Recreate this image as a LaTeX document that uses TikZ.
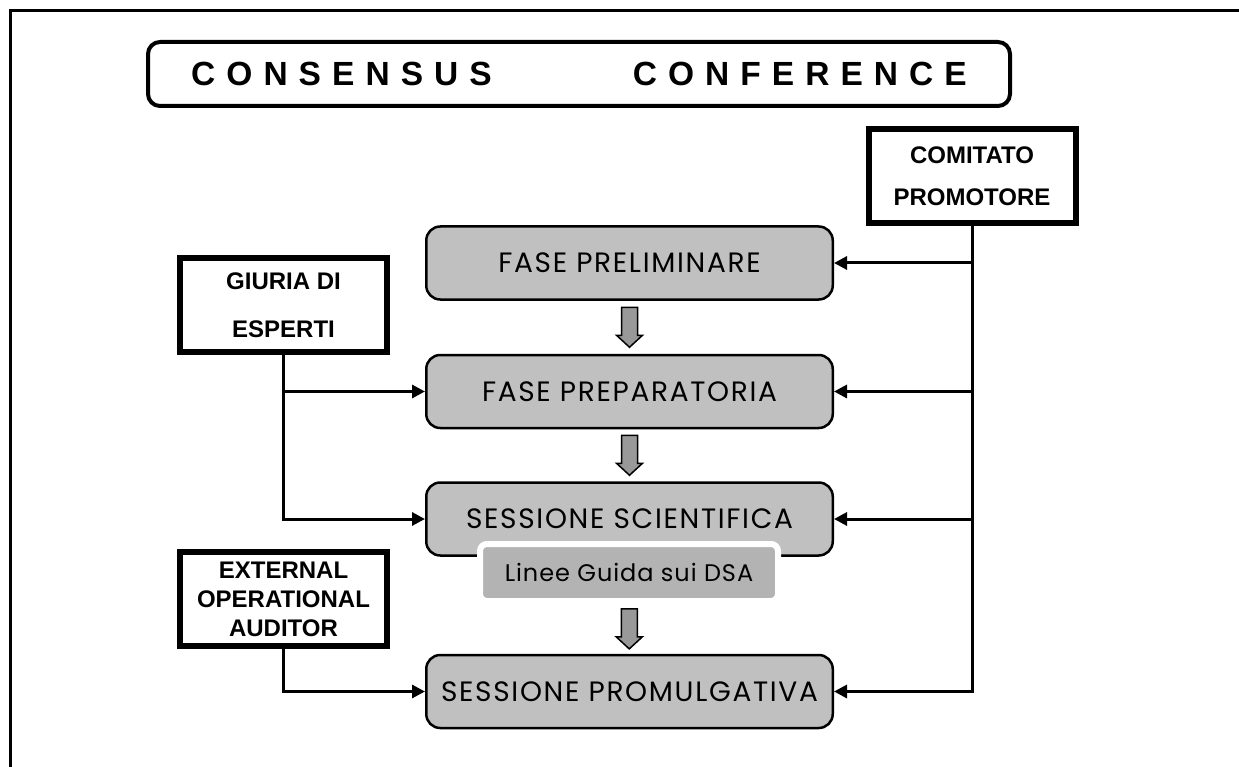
\documentclass[tikz,border=0pt]{standalone}
\usepackage{fontspec}
\setmainfont{Liberation Sans}
\newfontfamily\comicfont[LetterSpace=6]{Poppins}
\newfontfamily\guidefont[LetterSpace=4]{Poppins}
\usetikzlibrary{positioning,arrows.meta,calc}
\definecolor{phasegray}{HTML}{C0C0C0}
\definecolor{guidegray}{HTML}{B3B3B3}
\definecolor{arrowgray}{HTML}{999999}
\tikzset{
	phase/.style={rectangle, rounded corners=14pt, draw, line width=2.5pt, fill=phasegray, minimum width=406.5pt, minimum height=73pt, font=\comicfont\fontsize{28}{32}\selectfont},
	actor/.style={rectangle, draw, line width=6pt, fill=white, minimum width=207pt, minimum height=94pt, align=center, font=\bfseries\fontsize{24}{29}\selectfont},
	guide/.style={rectangle, rounded corners=7pt, draw=white, line width=6pt, fill=guidegray, minimum width=298pt, minimum height=57pt, font=\guidefont\fontsize{24}{28}\selectfont},
	link/.style={line width=3pt},
	linkarr/.style={link, -{Triangle[length=13pt,width=13pt]}},
	flowarr/.style={draw, line width=1.5pt, fill=arrowgray, line join=miter},
}
\newcommand{\flowarrow}[1]{\draw[flowarr] (#1) ++(-8,-20) -- ++(16,0) -- ++(0,28) -- ++(5,0) -- ++(-13,12) -- ++(-13,-12) -- ++(5,0) -- cycle;}

\begin{document}
\begin{tikzpicture}[x=1pt,y=-1pt]
	\useasboundingbox (0,0) rectangle (1239,767);
	% page frame
	\draw[line width=3pt] (10,767) -- (10,11) -- (1239,11);
	
	\node (title) [rectangle, rounded corners=12pt, draw, line width=4pt, minimum width=862pt, minimum height=64pt, font=\bfseries\fontsize{33.5}{36}\selectfont] at (579,74)
		{\addfontfeatures{LetterSpace=33}CONSENSUS\hspace{141pt}CONFERENCE};
	
	% the four phases
	\node (prelim) [phase] at (629.5,263) {FASE PRELIMINARE};
	\node (prep) [phase, below=53pt of prelim] {FASE PREPARATORIA};
	\node (sci) [phase, below=52pt of prep] {SESSIONE SCIENTIFICA};
	\node (promul) [phase, below=97pt of sci] {SESSIONE PROMULGATIVA};
	\node (guide) [guide] at (629,572.5) {Linee Guida sui DSA};
	
	\coordinate (f1) at ($(prelim.south)!0.5!(prep.north)$);
	\coordinate (f2) at ($(prep.south)!0.5!(sci.north)$);
	\coordinate (f3) at ($(guide.south)!0.5!(promul.north)$);
	\flowarrow{f1}
	\flowarrow{f2}
	\flowarrow{f3}
	
	% actors
	\node (comitato) [actor] at (972,176) {COMITATO\\[13pt]PROMOTORE};
	\node (giuria) [actor] at (283.5,305) {GIURIA DI\\[19pt]ESPERTI};
	\node (external) [actor] at (283.5,599) {EXTERNAL\\OPERATIONAL\\AUDITOR};
	
	% connecting the actors to the phases
	\draw[linkarr] (comitato.south) |- (promul.east);
	\draw[linkarr] (comitato.south |- prelim.east) -- (prelim.east);
	\draw[linkarr] (comitato.south |- prep.east) -- (prep.east);
	\draw[linkarr] (comitato.south |- sci.east) -- (sci.east);
	
	\draw[linkarr] (giuria.south) |- (sci.west);
	\draw[linkarr] (giuria.south |- prep.west) -- (prep.west);
	\draw[linkarr] (external.south) |- (promul.west);
\end{tikzpicture}
\end{document}
